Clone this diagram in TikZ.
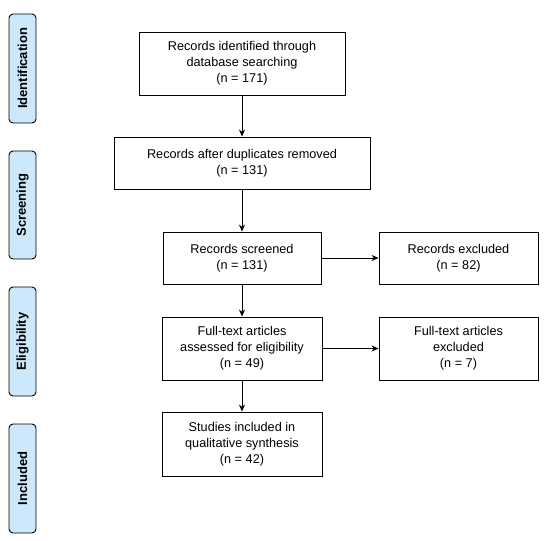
\documentclass[tikz,border=0pt]{standalone}
\usepackage{fontspec}
\setmainfont{Liberation Sans}
\usepackage{tikz}
\usetikzlibrary{shapes.geometric, arrows, calc, positioning, arrows.meta}
\tikzstyle{stage} = [rectangle, draw=black, line width=0.9pt, text centered, align=center, inner sep=2pt, font=\fontsize{12.7}{16}\selectfont]
\tikzstyle{phase} = [rectangle, rounded corners=4pt, draw=black, line width=0.9pt, fill=phaseblue, rotate=90, minimum height=27pt, inner sep=0pt, font=\fontsize{13}{14}\selectfont\bfseries]
\tikzstyle{arrow} = [line width=0.9pt,-{Stealth[length=7pt,width=6pt]}]
\definecolor{phaseblue}{RGB}{204,232,250}

\begin{document}
\begin{tikzpicture}[x=1pt, y=-1pt]
	\useasboundingbox (0,0) rectangle (550,541);
	% phases
	\node (identification) [phase, minimum width=109pt] at (22.5,68.5) {Identification};
	\node (screening) [phase, minimum width=108pt] at (22.5,205) {Screening};
	\node (eligibility) [phase, minimum width=109pt] at (22.5,341.5) {Eligibility};
	\node (included) [phase, minimum width=109pt] at (22.5,478.5) {Included};
	% boxes
	\node (identified) [stage, minimum width=206pt, minimum height=63pt] at (242,63.5) {Records identified through\\database searching\\(n = 171)};
	\node (duplicates) [stage, minimum width=256pt, minimum height=52pt] at (242,163) {Records after duplicates removed\\(n = 131)};
	\node (screened) [stage, minimum width=158pt, minimum height=52pt] at (242,258) {Records screened\\(n = 131)};
	\node (excluded) [stage, minimum width=159pt, minimum height=52pt] at (458.5,258) {Records excluded\\(n = 82)};
	\node (fulltext) [stage, minimum width=160pt, minimum height=63pt] at (242,348.5) {Full-text articles\\assessed for eligibility\\(n = 49)};
	\node (ftexcluded) [stage, minimum width=159pt, minimum height=63pt] at (458.5,348.5) {Full-text articles\\excluded\\(n = 7)};
	\node (studies) [stage, minimum width=160pt, minimum height=64pt] at (242,444) {Studies included in\\qualitative synthesis\\(n = 42)};
	% arrows
	\draw [arrow] (identified) -- (duplicates);
	\draw [arrow] (duplicates) -- (screened);
	\draw [arrow] (screened) -- (excluded);
	\draw [arrow] (screened) -- (fulltext);
	\draw [arrow] (fulltext) -- (ftexcluded);
	\draw [arrow] (fulltext) -- (studies);
\end{tikzpicture}
\end{document}
